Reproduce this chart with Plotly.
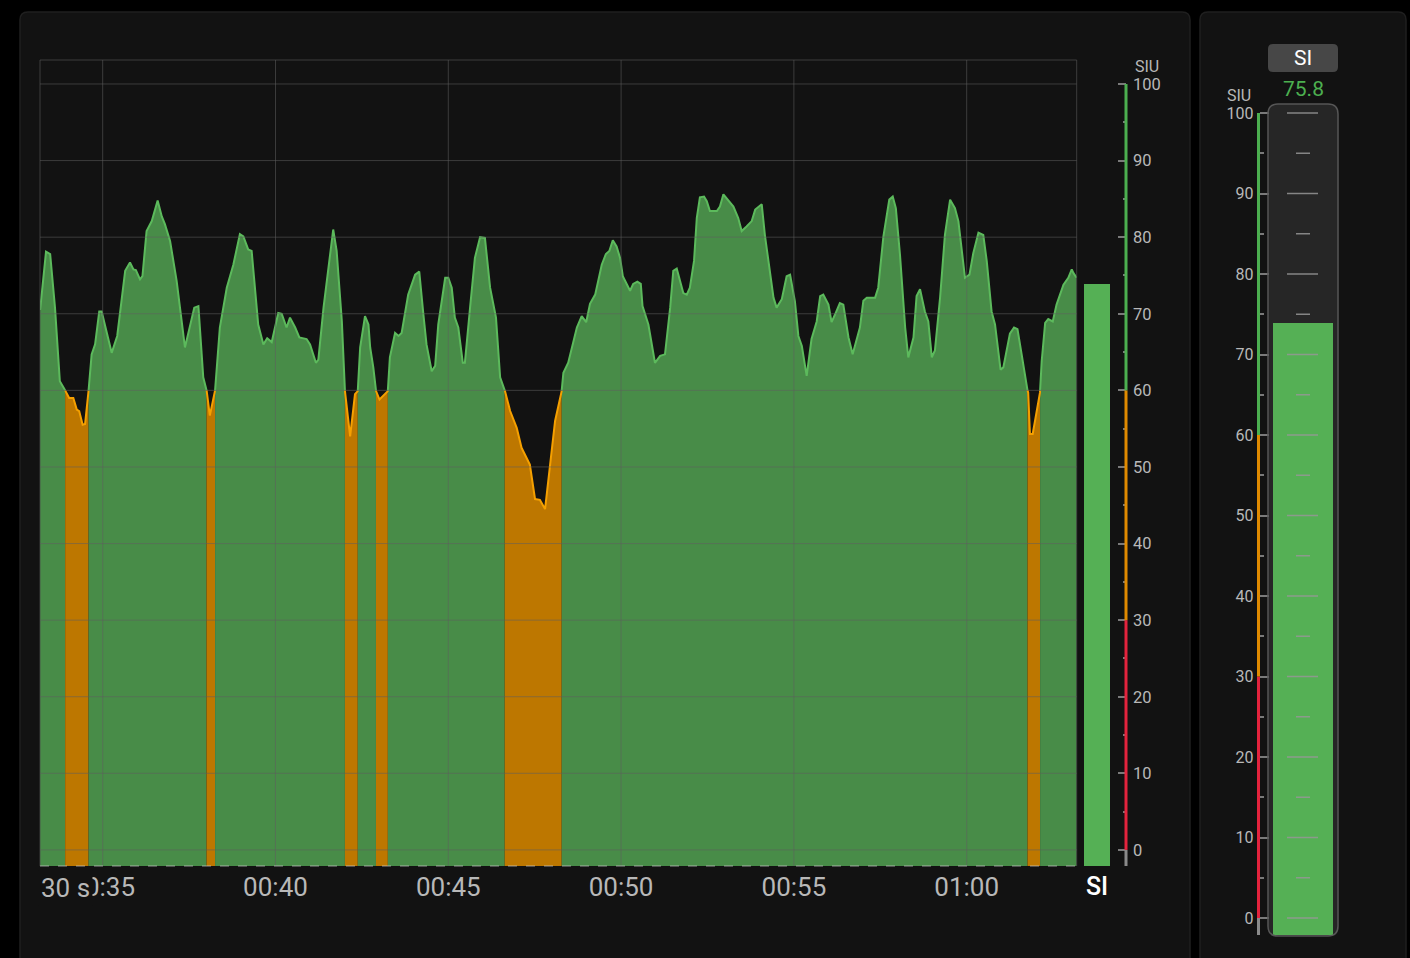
import plotly.graph_objects as go

W, H = 1410, 958

# ---------------- data ----------------
t_sec = [
    33.19, 33.36, 33.48, 33.62, 33.76, 33.86, 33.94, 34.03, 34.15, 34.25, 34.32, 34.42, 34.49, 34.59,
    34.68, 34.78, 34.90, 34.97, 35.26, 35.42, 35.65, 35.79, 35.89, 35.96, 36.08, 36.15, 36.27, 36.42,
    36.59, 36.71, 36.80, 36.95, 37.14, 37.38, 37.53, 37.65, 37.77, 37.91, 38.01, 38.10, 38.25, 38.39,
    38.59, 38.78, 38.97, 39.07, 39.21, 39.31, 39.50, 39.65, 39.76, 39.89, 40.08, 40.18, 40.32,
    40.42, 40.57, 40.69, 40.90, 41.00, 41.17, 41.24, 41.39, 41.67, 41.77, 41.92, 42.01, 42.16, 42.30,
    42.38, 42.45, 42.59, 42.69, 42.74, 42.83, 42.91, 43.01, 43.17, 43.25, 43.31, 43.46, 43.56, 43.65,
    43.84, 44.04, 44.16, 44.28, 44.37, 44.52, 44.62, 44.71, 44.91, 45.00, 45.10, 45.19, 45.29, 45.42,
    45.48, 45.63, 45.77, 45.92, 46.06, 46.21, 46.38, 46.50, 46.64, 46.79, 46.88, 46.98, 47.12, 47.36,
    47.51, 47.65, 47.80, 47.94, 48.09,
    48.28, 48.33, 48.47, 48.72, 48.86, 48.99, 49.10, 49.25, 49.44, 49.56, 49.66, 49.76, 49.87, 49.97,
    50.05, 50.26, 50.35, 50.47, 50.57, 50.62, 50.79, 50.98, 51.13, 51.27, 51.42, 51.51, 51.61, 51.80,
    51.90, 51.99, 52.11, 52.19, 52.28, 52.40, 52.48, 52.57, 52.77, 52.86, 52.96, 53.15, 53.25, 53.39,
    53.49, 53.63, 53.78, 53.88, 54.07, 54.16, 54.31, 54.41, 54.50, 54.65, 54.79, 54.89, 55.03, 55.13,
    55.23, 55.37, 55.51, 55.66, 55.76,
    55.85, 56.00, 56.09, 56.19, 56.33, 56.43, 56.58, 56.70, 56.91, 57.01, 57.11, 57.35, 57.44, 57.59,
    57.76, 57.86, 57.95, 58.07, 58.22, 58.31, 58.46, 58.55, 58.65, 58.79, 58.89, 58.99, 59.08, 59.23,
    59.37, 59.52, 59.66, 59.76, 59.85, 59.95, 60.08, 60.19, 60.34, 60.48, 60.58, 60.72, 60.82, 60.98,
    61.06, 61.25, 61.37, 61.47, 61.59, 61.74, 61.78, 61.83, 61.91, 62.12, 62.17, 62.27, 62.36, 62.49,
    62.60, 62.80, 62.94, 63.04, 63.09, 63.18,
]
siu = [
    70.5, 78.1, 77.8, 70.8, 61.2, 60.4, 59.8, 59.0, 59.0, 57.5, 57.3, 55.5, 55.6, 59.9,
    64.7, 66.0, 70.3, 70.3, 64.9, 67.1, 75.6, 76.7, 75.8, 75.7, 74.5, 74.9, 80.8, 82.1,
    84.8, 82.7, 81.7, 79.5, 74.3, 65.6, 68.6, 70.8, 71.0, 61.7, 59.9, 56.7, 59.9, 68.2,
    73.4, 76.4, 80.4, 80.1, 78.4, 78.2, 68.6, 66.0, 66.8, 66.3, 70.1, 70.0, 68.2,
    69.5, 68.2, 66.9, 66.7, 66.0, 63.6, 64.0, 70.8, 81.0, 78.2, 69.0, 59.9, 54.0, 59.5,
    59.9, 65.6, 69.7, 68.6, 65.6, 63.0, 59.9, 58.8, 59.5, 59.9, 64.3, 67.5, 67.1, 67.5,
    72.5, 75.1, 75.5, 69.9, 66.0, 62.5, 63.2, 68.6, 74.7, 74.7, 73.4, 69.5, 68.2, 63.6,
    63.6, 70.8, 77.3, 80.0, 79.9, 73.4, 69.5, 61.7, 59.9, 57.3, 56.2, 55.1, 52.5, 50.3,
    45.8, 45.7, 44.5, 50.3, 56.0,
    59.9, 62.3, 63.6, 68.2, 69.7, 68.9, 71.3, 72.5, 76.4, 77.8, 78.2, 79.6, 78.8, 77.3,
    74.9, 73.0, 73.9, 74.2, 73.9, 71.0, 68.6, 63.6, 64.5, 64.7, 70.8, 75.6, 75.9, 72.7,
    72.5, 73.4, 76.9, 82.5, 85.2, 85.3, 84.7, 83.4, 83.4, 84.0, 85.6, 84.5, 84.0, 82.5,
    80.8, 81.4, 82.1, 83.6, 84.3, 80.3, 75.1, 72.1, 70.8, 71.9, 74.9, 75.1, 71.6, 67.1,
    65.8, 61.9, 66.7, 69.0, 72.3,
    72.5, 71.2, 68.9, 69.9, 71.4, 71.2, 66.9, 64.7, 68.2, 71.7, 72.1, 72.1, 73.4, 80.1,
    84.9, 85.3, 83.8, 77.7, 68.2, 64.3, 66.9, 72.3, 73.2, 70.3, 69.0, 64.3, 65.2, 72.1,
    80.3, 84.9, 83.8, 82.1, 78.6, 74.7, 75.1, 77.9, 80.6, 80.3, 76.9, 70.3, 68.6, 62.7,
    63.0, 67.4, 68.2, 68.0, 64.7, 60.3, 59.7, 54.3, 54.3, 59.7, 63.8, 68.8, 69.3, 69.0,
    71.2, 73.8, 74.7, 75.8, 75.3, 74.7,
]
si_bar_value = 73.9
si_readout = "75.8"
bar_name = "SI"
unit_label = "SIU"
window_label = "30 s"
time_tick_secs = [35, 40, 45, 50, 55, 60]
time_tick_text = ["00:35", "00:40", "00:45", "00:50", "00:55", "01:00"]
y_ticks = [0, 10, 20, 30, 40, 50, 60, 70, 80, 90, 100]
warn_level = 60
alarm_level = 30

# ---------------- styling / layout constants ----------------
FONT = "Roboto"
GREEN_FILL = "#488c48"
GREEN_LINE = "#5cba5c"
ORANGE_FILL = "#bd7700"
ORANGE_LINE = "#f5a000"
BAR_GREEN = "#55b055"
AX_GREEN = "#4caf50"
AX_ORANGE = "#e08a00"
AX_RED = "#e3233d"
AX_GRAY = "#8a8a8a"
LABEL = "#b8b8b8"
PANEL = "#121212"

X_RANGE = [33.186, 63.183]
Y_RANGE = [-2.1, 103.13]
G_RANGE = [-2.112, 101.118]


def px(x):
    return x / W


def py(y):
    return 1 - y / H


def rrect(x0, y0, x1, y1, r):
    def P(x, y):
        return f"{px(x):.5f},{py(y):.5f}"
    return (f"M{P(x0 + r, y0)} L{P(x1 - r, y0)} Q{P(x1, y0)} {P(x1, y0 + r)} "
            f"L{P(x1, y1 - r)} Q{P(x1, y1)} {P(x1 - r, y1)} L{P(x0 + r, y1)} "
            f"Q{P(x0, y1)} {P(x0, y1 - r)} L{P(x0, y0 + r)} Q{P(x0, y0)} {P(x0 + r, y0)} Z")


def split_segments(ts, vs, thr):
    segs = []
    cx, cy = [ts[0]], [vs[0]]
    low = vs[0] < thr
    for i in range(1, len(ts)):
        nlow = vs[i] < thr
        if nlow != low:
            t0, t1, v0, v1 = ts[i - 1], ts[i], vs[i - 1], vs[i]
            tc = t0 + (thr - v0) * (t1 - t0) / (v1 - v0)
            cx.append(tc)
            cy.append(thr)
            segs.append((low, cx, cy))
            cx, cy = [tc], [thr]
            low = nlow
        cx.append(ts[i])
        cy.append(vs[i])
    segs.append((low, cx, cy))
    return segs


fig = go.Figure()
segs = split_segments(t_sec, siu, warn_level)
base = Y_RANGE[0]
for low, sx, sy in segs:
    fig.add_trace(go.Scatter(
        x=sx + [sx[-1], sx[0]], y=sy + [base, base], mode="lines", fill="toself",
        fillcolor=ORANGE_FILL if low else GREEN_FILL, line=dict(width=0),
        hoverinfo="skip", showlegend=False, xaxis="x", yaxis="y"))
for low, sx, sy in segs:
    fig.add_trace(go.Scatter(
        x=sx, y=sy, mode="lines", line=dict(color=ORANGE_LINE if low else GREEN_LINE, width=2),
        showlegend=False, xaxis="x", yaxis="y"))

# current value bar in main chart
fig.add_trace(go.Bar(x=[bar_name], y=[si_bar_value - base], base=base, width=1,
                     marker=dict(color=BAR_GREEN, line=dict(width=0)),
                     showlegend=False, xaxis="x2", yaxis="y"))
# gauge bar
fig.add_trace(go.Bar(x=[bar_name], y=[si_bar_value - G_RANGE[0]], base=G_RANGE[0], width=1,
                     marker=dict(color=BAR_GREEN, line=dict(width=0)),
                     showlegend=False, xaxis="x3", yaxis="y3"))

shapes = []
# panels
shapes.append(dict(type="path", path=rrect(20, 12, 1190, 990, 8), xref="paper", yref="paper",
                   fillcolor=PANEL, line=dict(color="#1f1f1f", width=1.5), layer="below"))
shapes.append(dict(type="path", path=rrect(1200, 12, 1406, 990, 8), xref="paper", yref="paper",
                   fillcolor=PANEL, line=dict(color="#1f1f1f", width=1.5), layer="below"))
# gauge background
shapes.append(dict(type="path", path=rrect(1268, 104, 1338, 936, 10), xref="paper", yref="paper",
                   fillcolor="#262626", line=dict(width=0), layer="below"))

GRID = "rgba(95,95,95,0.55)"
for v in y_ticks:
    shapes.append(dict(type="line", xref="x domain", x0=0, x1=1, yref="y", y0=v, y1=v,
                       line=dict(color=GRID, width=1), layer="above"))
for t in time_tick_secs:
    shapes.append(dict(type="line", xref="x", x0=t, x1=t, yref="y domain", y0=0, y1=1,
                       line=dict(color=GRID, width=1), layer="above"))
# plot frame (top, left, right)
shapes.append(dict(type="line", xref="x domain", x0=0, x1=1, yref="y domain", y0=1, y1=1,
                   line=dict(color=GRID, width=1), layer="above"))
shapes.append(dict(type="line", xref="x domain", x0=0, x1=0, yref="y domain", y0=0, y1=1,
                   line=dict(color=GRID, width=1), layer="above"))
shapes.append(dict(type="line", xref="x domain", x0=1, x1=1, yref="y domain", y0=0, y1=1,
                   line=dict(color=GRID, width=1), layer="above"))
# dashed baseline
shapes.append(dict(type="line", xref="x domain", x0=0, x1=1, yref="y domain", y0=0, y1=0,
                   line=dict(color="rgba(210,210,210,0.45)", width=1.5, dash="dash"), layer="above"))


def colored_axis(xpos, yref, ymin):
    out = []
    for y0, y1, c in [(ymin, 0, AX_GRAY), (0, alarm_level, AX_RED),
                      (alarm_level, warn_level, AX_ORANGE), (warn_level, 100, AX_GREEN)]:
        out.append(dict(type="line", xref="paper", x0=xpos, x1=xpos, yref=yref, y0=y0, y1=y1,
                        line=dict(color=c, width=3), layer="above"))
    return out


shapes += colored_axis(px(1126), "y", Y_RANGE[0])
shapes += colored_axis(px(1258.5), "y3", G_RANGE[0])

# gauge inner scale marks
for v in range(0, 101, 10):
    shapes.append(dict(type="line", xref="paper", x0=px(1287), x1=px(1318), yref="y3", y0=v, y1=v,
                       line=dict(color="rgba(150,150,150,0.85)", width=1.5), layer="above"))
for v in range(5, 100, 10):
    shapes.append(dict(type="line", xref="paper", x0=px(1296), x1=px(1310), yref="y3", y0=v, y1=v,
                       line=dict(color="rgba(150,150,150,0.85)", width=1.5), layer="above"))
# gauge outline
shapes.append(dict(type="path", path=rrect(1268, 104, 1338, 936, 10), xref="paper", yref="paper",
                   line=dict(color="#565656", width=1.5), layer="above"))
# SI button
shapes.append(dict(type="path", path=rrect(1268, 44, 1338, 72, 5), xref="paper", yref="paper",
                   fillcolor="#474747", line=dict(width=0), layer="above"))

annotations = [
    dict(text=window_label, x=px(38), y=py(888), xref="paper", yref="paper", xanchor="left",
         yanchor="middle", showarrow=False, bgcolor=PANEL, borderpad=2,
         font=dict(family=FONT, size=26, color=LABEL)),
    dict(text=unit_label, x=px(1133), y=py(66), xref="paper", yref="paper", xanchor="left",
         yanchor="middle", showarrow=False, font=dict(family=FONT, size=16, color=LABEL)),
    dict(text=unit_label, x=px(1253), y=py(96), xref="paper", yref="paper", xanchor="right",
         yanchor="middle", showarrow=False, font=dict(family=FONT, size=16, color=LABEL)),
    dict(text=bar_name, x=px(1303), y=py(58.5), xref="paper", yref="paper", xanchor="center",
         yanchor="middle", showarrow=False, font=dict(family=FONT, size=21, color="#ffffff")),
    dict(text=si_readout, x=px(1303), y=py(89), xref="paper", yref="paper", xanchor="center",
         yanchor="middle", showarrow=False, font=dict(family=FONT, size=21, color=AX_GREEN)),
]

axis_common = dict(showgrid=False, zeroline=False, showline=False)

fig.update_layout(
    width=W, height=H, autosize=False,
    margin=dict(l=0, r=0, t=0, b=0, pad=0),
    paper_bgcolor="#000000", plot_bgcolor="rgba(0,0,0,0)",
    showlegend=False, bargap=0, hovermode=False,
    font=dict(family=FONT, color=LABEL),
    xaxis=dict(domain=[px(40), px(1076.7)], range=X_RANGE, anchor="y",
               tickvals=time_tick_secs, ticktext=time_tick_text, ticks="",
               tickfont=dict(family=FONT, size=26, color=LABEL), ticklabelstandoff=3,
               **axis_common),
    yaxis=dict(domain=[py(866), py(60)], range=Y_RANGE, side="right", anchor="free",
               position=px(1126), tickvals=y_ticks, ticks="inside", ticklen=8, tickwidth=1.5,
               tickcolor="#7a7a7a",
               minor=dict(dtick=5, tick0=0, ticks="inside", ticklen=3, tickcolor="#7a7a7a",
                          showgrid=False),
               tickfont=dict(family=FONT, size=16.5, color=LABEL), ticklabelstandoff=6,
               **axis_common),
    xaxis2=dict(domain=[px(1084), px(1110)], anchor="y", range=[-0.5, 0.5], type="category",
                ticks="", tickfont=dict(family="Roboto Medium, Roboto", size=25, color="#ffffff"),
                ticklabelstandoff=3, **axis_common),
    xaxis3=dict(domain=[px(1273), px(1333)], anchor="y3", range=[-0.5, 0.5], type="category",
                visible=False, **axis_common),
    yaxis3=dict(domain=[py(935), py(104)], range=G_RANGE, side="left", anchor="free",
                position=px(1258.5), tickvals=y_ticks, ticks="inside", ticklen=9, tickwidth=1.5,
                tickcolor="#7a7a7a",
                minor=dict(dtick=5, tick0=0, ticks="inside", ticklen=4, tickcolor="#7a7a7a",
                           showgrid=False),
                tickfont=dict(family=FONT, size=16, color=LABEL), ticklabelstandoff=5,
                **axis_common),
    shapes=shapes,
    annotations=annotations,
)

fig.write_html("out.html", config={"displayModeBar": False},
               post_script="document.body.style.margin='0';document.body.style.overflow='hidden';")
